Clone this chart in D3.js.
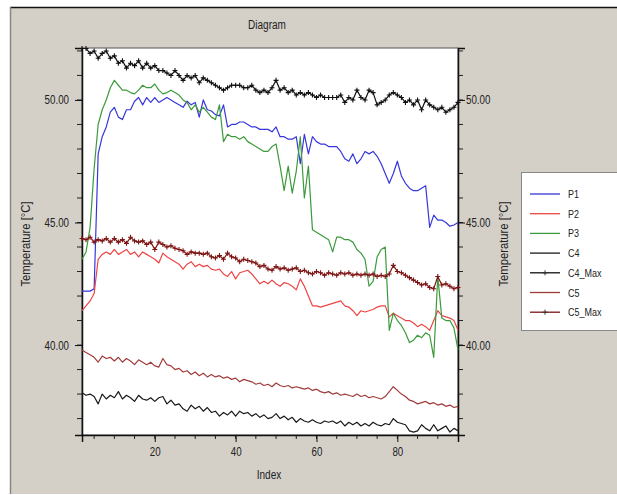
<!DOCTYPE html>
<html>
<head>
<meta charset="utf-8">
<script src="https://cdn.jsdelivr.net/npm/d3@7"></script>
<style>
  html, body { margin: 0; padding: 0; background: #fff; }
  svg text { font-family: "Liberation Sans", Arial, sans-serif; fill: #222; }
</style>
</head>
<body>
<svg id="chart" width="617" height="495"></svg>
<script>
// sample index (x axis)
var index = d3.range(2, 96);

var seriesNames = ["P1", "P2", "P3", "C4", "C4_Max", "C5", "C5_Max"];
var seriesColors = ["#3636dc", "#ee4444", "#3c9a3c", "#1a1a1a", "#111111", "#a23c3c", "#7e1414"];
var seriesMarker = [false, false, false, false, true, false, true];

var P1 = [42.2, 42.2, 42.2, 42.3, 47.8, 48.5, 48.9, 49.5, 49.7, 49.3, 49.2, 49.6, 49.6, 49.95, 50.1, 49.8, 50.1, 49.9, 50.1, 49.9,
  50.0, 50.1, 50.0, 49.9, 49.8, 49.7, 49.95, 49.8, 49.9, 49.3, 50.0, 49.6, 49.55, 49.4, 49.35, 49.8, 48.9, 49.0, 49.0, 49.1,
  49.1, 49.0, 48.9, 48.9, 48.8, 48.8, 48.8, 48.7, 48.9, 48.5, 48.5, 48.4, 48.4, 48.5, 47.4, 48.6, 47.8, 48.5, 48.3, 48.2,
  48.2, 48.1, 48.1, 48.1, 47.9, 47.6, 47.5, 47.8, 47.4, 47.6, 47.9, 47.8, 47.9, 47.7, 47.4, 47.0, 46.6, 47.0, 47.5, 46.9,
  46.6, 46.4, 46.3, 46.3, 46.4, 46.5, 44.8, 45.3, 45.1, 45.1, 45.0, 44.85, 44.9, 45.0];

var P2 = [41.4, 41.6, 41.8, 42.1, 43.5, 43.7, 43.8, 43.7, 43.9, 43.7, 43.8, 43.9, 43.7, 43.8, 43.6, 43.8, 43.7, 43.6, 43.5, 43.35,
  43.75, 43.6, 43.5, 43.4, 43.3, 43.1, 43.3, 43.4, 43.2, 43.3, 43.2, 43.25, 43.1, 43.05, 43.1, 42.9, 42.8, 43.0, 42.7, 42.95,
  43.0, 43.05, 42.9, 42.7, 42.5, 42.6, 42.5, 42.65, 42.5, 42.4, 42.55, 42.5, 42.4, 42.25, 42.7, 42.4, 42.0, 41.6, 41.6, 41.55,
  41.6, 41.65, 41.7, 41.75, 41.8, 41.6, 41.55, 41.4, 41.2, 41.4, 41.35, 41.4, 41.45, 41.55, 41.6, 41.6, 41.15, 41.3, 41.2, 41.1,
  41.0, 41.0, 40.9, 40.75, 40.85, 40.75, 40.6, 41.0, 41.4, 41.2, 41.15, 41.1, 41.0, 40.6];

var P3 = [43.5, 43.8, 44.8, 47.2, 49.0, 49.6, 50.0, 50.5, 50.8, 50.6, 50.4, 50.4, 50.3, 50.25, 50.4, 50.6, 50.5, 50.5, 50.65, 50.4,
  50.25, 50.3, 50.4, 50.3, 50.2, 50.0, 49.9, 49.6, 49.8, 49.5, 49.7, 49.5, 49.3, 49.2, 49.8, 48.3, 48.6, 48.5, 48.5, 48.4,
  48.5, 48.3, 48.2, 48.1, 48.0, 47.9, 47.9, 48.1, 48.2, 47.3, 46.3, 47.3, 46.2, 47.1, 48.5, 46.0, 47.3, 44.7, 44.6, 44.5,
  44.4, 44.3, 43.8, 44.4, 44.4, 44.3, 44.3, 44.2, 43.9, 43.75, 43.5, 42.4, 42.6, 43.6, 43.9, 44.0, 40.6, 41.3, 41.0, 40.8,
  40.5, 40.1, 40.2, 40.4, 40.3, 40.5, 40.4, 39.5, 42.8, 41.1, 41.0, 41.0, 40.7, 39.8];

var C4 = [38.05, 37.95, 38.0, 37.9, 37.6, 38.0, 37.8, 37.95, 37.85, 38.1, 37.8, 37.95, 37.85, 37.7, 37.95, 37.8, 37.75, 37.85, 37.7, 37.85,
  37.9, 37.6, 37.75, 37.55, 37.6, 37.4, 37.3, 37.55, 37.4, 37.5, 37.3, 37.45, 37.25, 37.3, 37.1, 37.25, 37.15, 37.3, 37.1, 37.3,
  37.2, 37.25, 37.1, 37.2, 37.05, 37.15, 37.0, 37.05, 37.2, 37.0, 37.1, 36.95, 37.05, 36.85, 37.0, 36.9, 36.85, 36.95, 36.85, 36.8,
  36.9, 36.85, 36.9, 36.8, 36.9, 36.7, 36.85, 36.75, 36.85, 36.7, 36.8, 36.7, 36.85, 36.75, 36.7, 36.8, 36.75, 37.0, 36.85, 36.8,
  36.75, 36.5, 36.45, 36.5, 36.75, 36.6, 36.5, 36.75, 36.5, 36.6, 36.7, 36.45, 36.6, 36.5];

var C4_Max = [52.1, 52.1, 51.9, 52.0, 51.7, 51.9, 52.0, 51.7, 51.8, 51.5, 51.6, 51.3, 51.5, 51.4, 51.6, 51.3, 51.5, 51.3, 51.4, 51.2,
  51.2, 51.1, 51.0, 51.2, 51.0, 50.8, 51.0, 50.9, 51.0, 50.7, 50.9, 50.8, 50.7, 50.6, 50.5, 50.4, 50.5, 50.6, 50.6, 50.6,
  50.5, 50.5, 50.6, 50.4, 50.3, 50.4, 50.3, 50.5, 50.8, 50.4, 50.5, 50.3, 50.4, 50.2, 50.3, 50.2, 50.3, 50.2, 50.1, 50.2,
  50.1, 50.1, 50.1, 50.1, 50.2, 49.9, 50.1, 50.0, 50.4, 50.1, 50.0, 50.4, 50.3, 49.8, 49.9, 50.0, 50.2, 50.3, 50.2, 50.1,
  49.9, 50.0, 49.8, 50.0, 49.6, 50.0, 49.8, 49.7, 49.6, 49.7, 49.5, 49.6, 49.7, 49.9];

var C5 = [39.8, 39.7, 39.6, 39.5, 39.3, 39.55, 39.45, 39.5, 39.35, 39.5, 39.3, 39.45, 39.35, 39.2, 39.4, 39.3, 39.2, 39.3, 39.15, 39.1,
  39.45, 39.2, 39.15, 39.0, 39.05, 38.9, 38.95, 38.8, 38.9, 38.75, 38.85, 38.7, 38.8, 38.7, 38.75, 38.65, 38.7, 38.6, 38.65, 38.5,
  38.6, 38.55, 38.5, 38.4, 38.45, 38.35, 38.4, 38.3, 38.45, 38.35, 38.3, 38.35, 38.25, 38.3, 38.25, 38.2, 38.25, 38.15, 38.2, 38.1,
  38.05, 38.1, 38.0, 38.05, 37.95, 38.0, 37.95, 37.9, 38.0, 37.9, 37.95, 37.85, 37.9, 37.85, 37.8, 37.9, 38.1, 38.3, 38.15, 38.0,
  37.9, 37.75, 37.7, 37.6, 37.65, 37.7, 37.6, 37.65, 37.55, 37.6, 37.5, 37.55, 37.45, 37.5];

var C5_Max = [44.35, 44.3, 44.4, 44.2, 44.3, 44.25, 44.35, 44.2, 44.35, 44.2, 44.3, 44.15, 44.4, 44.25, 44.2, 44.25, 44.1, 44.2, 43.9, 44.2,
  44.1, 44.0, 44.05, 43.95, 43.9, 43.85, 43.7, 43.8, 43.75, 43.75, 43.7, 43.75, 43.6, 43.55, 43.65, 43.5, 43.75, 43.6, 43.55, 43.4,
  43.5, 43.45, 43.4, 43.35, 43.2, 43.25, 43.1, 43.05, 43.2, 43.1, 43.15, 43.05, 43.1, 43.15, 43.0, 43.05, 42.95, 42.9, 43.0, 42.95,
  42.85, 42.95, 42.9, 42.85, 42.95, 42.9, 42.95, 42.85, 42.9, 42.85, 42.9, 42.85, 42.9, 42.8, 42.85, 42.8, 42.9, 43.25, 43.0, 42.95,
  42.85, 42.75, 42.65, 42.55, 42.45, 42.5, 42.35, 42.3, 42.8, 42.45, 42.5, 42.4, 42.3, 42.35];

var seriesValues = [P1, P2, P3, C4, C4_Max, C5, C5_Max];

var xTicks = [20, 40, 60, 80];
var yTicks = [40, 45, 50];

var svg = d3.select("#chart");

// squeeze text horizontally, the original uses a condensed face
function narrow(sel, f) {
  sel.each(function() {
    var w = this.getComputedTextLength();
    d3.select(this).attr("textLength", w * f).attr("lengthAdjust", "spacingAndGlyphs");
  });
}

// window-ish panel
svg.append("rect").attr("x", 0).attr("y", 0).attr("width", 617).attr("height", 495).attr("fill", "#fff");
svg.append("rect").attr("x", 10).attr("y", 7).attr("width", 607).attr("height", 487).attr("fill", "#d4d0c8");
svg.append("line").attr("x1", 10).attr("x2", 617).attr("y1", 7.5).attr("y2", 7.5).attr("stroke", "#111").attr("stroke-width", 1.5);
svg.append("line").attr("x1", 10.5).attr("x2", 10.5).attr("y1", 7).attr("y2", 494).attr("stroke", "#8a8780").attr("stroke-width", 1.5);

var plot = {left: 82, right: 458, top: 48, bottom: 435};

var x = d3.scaleLinear().domain([2, 95]).range([plot.left, plot.right]);
var y = d3.scaleLinear().domain([36.33, 52.12]).range([plot.bottom, plot.top]);

svg.append("rect")
  .attr("x", plot.left).attr("y", plot.top)
  .attr("width", plot.right - plot.left).attr("height", plot.bottom - plot.top)
  .attr("fill", "#fff").attr("stroke", "#555").attr("stroke-width", 1);

var fmt = d3.format(".2f");

// minor ticks
var yMinor = d3.range(37, 53);
var xMinor = d3.range(5, 95, 5);

var gL = svg.append("g").attr("transform", "translate(" + plot.left + ",0)");
gL.selectAll("line.minor").data(yMinor).enter().append("line")
  .attr("x1", -5).attr("x2", 0).attr("y1", d => y(d)).attr("y2", d => y(d)).attr("stroke", "#222");
gL.call(d3.axisLeft(y).tickValues(yTicks).tickFormat(fmt).tickSize(7).tickPadding(6));

var gR = svg.append("g").attr("transform", "translate(" + plot.right + ",0)");
gR.selectAll("line.minor").data(yMinor).enter().append("line")
  .attr("x1", 0).attr("x2", 5).attr("y1", d => y(d)).attr("y2", d => y(d)).attr("stroke", "#222");
gR.call(d3.axisRight(y).tickValues(yTicks).tickFormat(fmt).tickSize(7).tickPadding(1));

var gB = svg.append("g").attr("transform", "translate(0," + plot.bottom + ")");
gB.selectAll("line.minor").data(xMinor).enter().append("line")
  .attr("x1", d => x(d)).attr("x2", d => x(d)).attr("y1", 0).attr("y2", 4).attr("stroke", "#222");
gB.call(d3.axisBottom(x).tickValues(xTicks).tickFormat(d3.format("d")).tickSize(7).tickPadding(5));

svg.selectAll(".domain").attr("stroke", "#111").attr("stroke-width", 1.5);
svg.selectAll(".tick line").attr("stroke", "#111");
svg.selectAll(".tick text").attr("font-size", 12.5).attr("fill", "#333").call(narrow, 0.78);

// lines
var line = d3.line().x((d, i) => x(index[i])).y(d => y(d));

seriesValues.forEach(function(vals, k) {
  svg.append("path")
    .attr("d", line(vals))
    .attr("fill", "none")
    .attr("stroke", seriesColors[k])
    .attr("stroke-width", 1.2)
    .attr("stroke-linejoin", "round");
  if (seriesMarker[k]) {
    svg.append("g").selectAll("path").data(vals).enter().append("path")
      .attr("d", (d, i) => "M" + (x(index[i]) - 2.5) + "," + y(d) + "h5M" + x(index[i]) + "," + (y(d) - 2.5) + "v5")
      .attr("stroke", seriesColors[k]).attr("stroke-width", 1.1);
  }
});

// texts
svg.append("text").attr("x", 267).attr("y", 29).attr("text-anchor", "middle").attr("font-size", 12.5).text("Diagram").call(narrow, 0.8);
svg.append("text").attr("x", 269).attr("y", 479).attr("text-anchor", "middle").attr("font-size", 12.5).text("Index").call(narrow, 0.8);
svg.append("text").attr("transform", "translate(30,244) rotate(-90)").attr("text-anchor", "middle").attr("font-size", 12.5).text("Temperature [°C]").call(narrow, 0.9);
svg.append("text").attr("transform", "translate(508,244) rotate(-90)").attr("text-anchor", "middle").attr("font-size", 12.5).text("Temperature [°C]").call(narrow, 0.9);

// legend
var lg = svg.append("g");
lg.append("rect").attr("x", 521.5).attr("y", 172.5).attr("width", 100).attr("height", 158).attr("fill", "#fff").attr("stroke", "#888");
var item = lg.selectAll("g.item").data(seriesNames).enter().append("g")
  .attr("transform", (d, i) => "translate(530," + (194 + i * 19.7) + ")");
item.append("line").attr("x1", 0).attr("x2", 30).attr("y1", 0).attr("y2", 0)
  .attr("stroke", (d, i) => seriesColors[i]).attr("stroke-width", 1.3);
item.filter((d, i) => seriesMarker[i]).append("path")
  .attr("d", "M12.5,0h5M15,-2.5v5").attr("stroke", "#333");
item.append("text").attr("x", 38).attr("y", 4).attr("font-size", 11.5).text(d => d).call(narrow, 0.78);
</script>
</body>
</html>
